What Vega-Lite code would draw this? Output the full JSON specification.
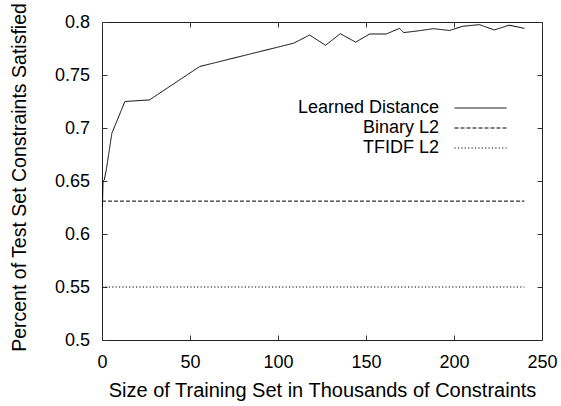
{
  "$schema": "https://vega.github.io/schema/vega-lite/v6.json",
  "width": 440,
  "height": 318,
  "autosize": "none",
  "padding": {"left": 102, "top": 22, "right": 19, "bottom": 66},
  "background": "white",
  "config": {
    "font": "Liberation Sans",
    "view": {"stroke": "#222", "strokeWidth": 1},
    "axis": {
      "domain": false,
      "grid": false,
      "tickColor": "#333",
      "tickWidth": 1,
      "labelColor": "#000",
      "labelFontSize": 18,
      "labelFont": "Liberation Sans",
      "titleColor": "#000",
      "titleFontSize": 19.5,
      "titleFontWeight": "normal",
      "titleFont": "Liberation Sans"
    },
    "legend": {"labelFont": "Liberation Sans"}
  },
  "data": {
    "values": [
      {"series": "Learned Distance", "x": 0.25, "y": 0.626},
      {"series": "Learned Distance", "x": 0.6, "y": 0.65},
      {"series": "Learned Distance", "x": 1.3, "y": 0.651},
      {"series": "Learned Distance", "x": 2.5, "y": 0.661},
      {"series": "Learned Distance", "x": 5.6, "y": 0.695},
      {"series": "Learned Distance", "x": 13, "y": 0.725},
      {"series": "Learned Distance", "x": 27, "y": 0.7265},
      {"series": "Learned Distance", "x": 55.5, "y": 0.758},
      {"series": "Learned Distance", "x": 108.9, "y": 0.78},
      {"series": "Learned Distance", "x": 118, "y": 0.7877},
      {"series": "Learned Distance", "x": 127, "y": 0.778},
      {"series": "Learned Distance", "x": 135.4, "y": 0.789},
      {"series": "Learned Distance", "x": 144.1, "y": 0.781},
      {"series": "Learned Distance", "x": 152.1, "y": 0.7887},
      {"series": "Learned Distance", "x": 161.5, "y": 0.7887},
      {"series": "Learned Distance", "x": 169.1, "y": 0.794},
      {"series": "Learned Distance", "x": 171.4, "y": 0.79},
      {"series": "Learned Distance", "x": 179, "y": 0.7915},
      {"series": "Learned Distance", "x": 188.4, "y": 0.7937},
      {"series": "Learned Distance", "x": 197.5, "y": 0.792},
      {"series": "Learned Distance", "x": 205, "y": 0.796},
      {"series": "Learned Distance", "x": 214.5, "y": 0.7975},
      {"series": "Learned Distance", "x": 222.9, "y": 0.7925},
      {"series": "Learned Distance", "x": 231.3, "y": 0.797},
      {"series": "Learned Distance", "x": 240, "y": 0.794},
      {"series": "Binary L2", "x": 0, "y": 0.631},
      {"series": "Binary L2", "x": 240, "y": 0.631},
      {"series": "TFIDF L2", "x": 0, "y": 0.55},
      {"series": "TFIDF L2", "x": 240, "y": 0.55}
    ]
  },
  "layer": [
    {
      "mark": {"type": "line", "color": "#000", "strokeWidth": 1},
      "encoding": {
        "x": {
          "field": "x", "type": "quantitative",
          "scale": {"domain": [0, 250], "nice": false, "zero": false},
          "axis": {
            "orient": "bottom",
            "values": [0, 50, 100, 150, 200, 250],
            "tickSize": -5,
            "labelPadding": 32.6,
            "labelBaseline": "alphabetic",
            "labelFlush": false,
            "title": "Size of Training Set in Thousands of Constraints",
            "titleFontSize": 20,
            "titleY": 56,
            "titleBaseline": "alphabetic"
          }
        },
        "y": {
          "field": "y", "type": "quantitative",
          "scale": {"domain": [0.5, 0.8], "nice": false, "zero": false},
          "axis": {
            "orient": "left",
            "values": [0.5, 0.55, 0.6, 0.65, 0.7, 0.75, 0.8],
            "format": "~g",
            "tickSize": -5,
            "labelPadding": 17.4,
            "labelFlush": false,
            "title": "Percent of Test Set Constraints Satisfied",
            "titleX": -77,
            "titleY": 155,
            "titleAngle": -90,
            "titleBaseline": "alphabetic"
          }
        },
        "strokeDash": {
          "field": "series", "type": "nominal",
          "scale": {
            "domain": ["Learned Distance", "Binary L2", "TFIDF L2"],
            "range": [[1, 0], [4, 2], [1.2, 2.2]]
          },
          "legend": {
            "title": null,
            "orient": "none",
            "legendX": 352,
            "legendY": 77,
            "symbolType": "stroke",
            "symbolSize": 2704,
            "symbolStrokeWidth": 1,
            "symbolStrokeColor": "#000",
            "labelFontSize": 18,
            "labelColor": "#000",
            "labelAlign": "right",
            "labelOffset": -68,
            "labelLimit": 300,
            "rowPadding": 2,
            "encode": {
              "symbols": {"update": {"y": {"value": 9}}},
              "labels": {"update": {"y": {"value": 9}}}
            }
          }
        }
      }
    },
    {
      "mark": {"type": "point", "opacity": 0},
      "encoding": {
        "x": {
          "field": "x", "type": "quantitative",
          "axis": {
            "orient": "top",
            "values": [0, 50, 100, 150, 200, 250],
            "tickSize": -5,
            "labels": false,
            "title": null
          }
        },
        "y": {
          "field": "y", "type": "quantitative",
          "axis": {
            "orient": "right",
            "values": [0.5, 0.55, 0.6, 0.65, 0.7, 0.75, 0.8],
            "tickSize": -5,
            "labels": false,
            "title": null
          }
        }
      }
    }
  ],
  "resolve": {"axis": {"x": "independent", "y": "independent"}}
}
